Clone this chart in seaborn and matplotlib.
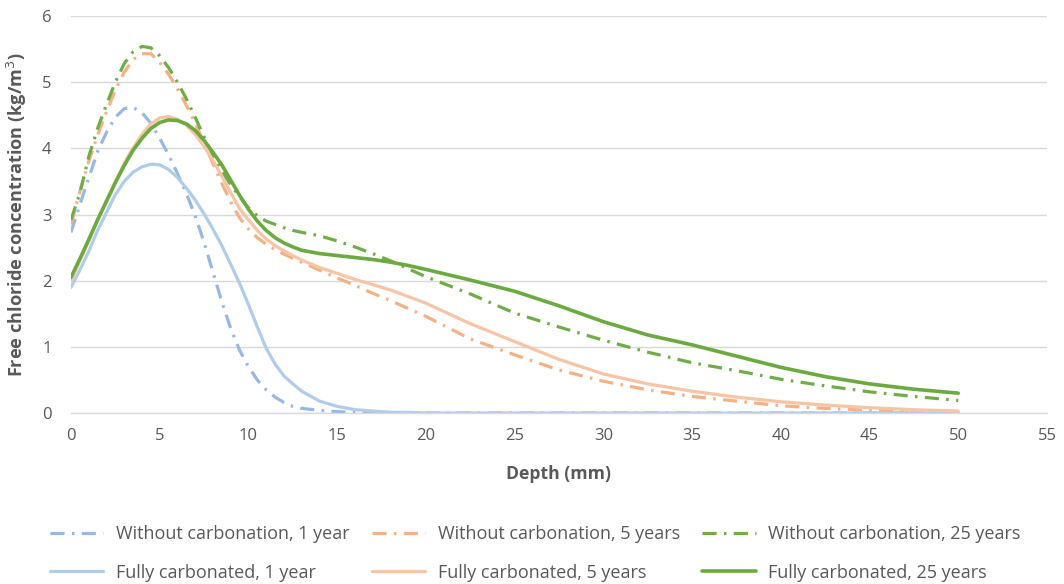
import matplotlib
matplotlib.use("Agg")
import matplotlib.pyplot as plt
import pandas as pd
import seaborn as sns

# ── Dados ─────────────────────────────────────────────────────────────────────
depth = [0, 0.5, 1, 1.5, 2, 2.5, 3, 3.5, 4, 4.5, 5, 5.5, 6, 6.5, 7, 7.5, 8, 8.5,
         9, 9.5, 10, 10.5, 11, 11.5, 12, 12.5, 13,
         14, 15, 16, 17, 18, 19, 20,
         22.5, 25, 27.5, 30, 32.5, 35, 37.5, 40, 42.5, 45, 47.5, 50]

without_1y = [2.73, 3.15, 3.55, 3.95, 4.24, 4.47, 4.60, 4.62, 4.54, 4.38, 4.15, 3.90,
              3.62, 3.32, 2.98, 2.58, 2.13, 1.68, 1.28, 0.95, 0.70, 0.50, 0.35, 0.24,
              0.16, 0.10, 0.07,
              0.04, 0.02, 0.01, 0.00, 0.00, 0.00, 0.00,
              0.00, 0.00, 0.00, 0.00, 0.00, 0.00, 0.00, 0.00, 0.00, 0.00, 0.00, 0.00]
full_1y = [1.90, 2.16, 2.44, 2.76, 3.03, 3.30, 3.50, 3.64, 3.72, 3.76, 3.75, 3.68,
           3.56, 3.40, 3.22, 3.01, 2.78, 2.53, 2.25, 1.96, 1.64, 1.30, 0.98, 0.74,
           0.56, 0.44, 0.33,
           0.18, 0.10, 0.05, 0.03, 0.01, 0.01, 0.00,
           0.00, 0.00, 0.00, 0.00, 0.00, 0.00, 0.00, 0.00, 0.00, 0.00, 0.00, 0.00]
without_5y = [2.85, 3.35, 3.80, 4.20, 4.55, 4.88, 5.15, 5.34, 5.43, 5.43, 5.30, 5.12,
              4.90, 4.65, 4.38, 4.08, 3.77, 3.47, 3.19, 2.95, 2.78, 2.65, 2.55, 2.47,
              2.40, 2.34, 2.28,
              2.16, 2.04, 1.93, 1.81, 1.70, 1.58, 1.46,
              1.12, 0.88, 0.65, 0.48, 0.35, 0.25, 0.18, 0.11, 0.07, 0.04, 0.02, 0.01]
full_5y = [2.00, 2.30, 2.60, 2.91, 3.21, 3.50, 3.77, 4.01, 4.21, 4.37, 4.46, 4.48,
           4.44, 4.35, 4.21, 4.03, 3.82, 3.58, 3.33, 3.09, 2.92, 2.76, 2.63, 2.53,
           2.45, 2.38, 2.31,
           2.20, 2.11, 2.02, 1.94, 1.86, 1.76, 1.66,
           1.35, 1.08, 0.81, 0.59, 0.44, 0.33, 0.24, 0.17, 0.12, 0.08, 0.05, 0.03]
without_25y = [2.92, 3.32, 3.87, 4.30, 4.66, 5.00, 5.28, 5.46, 5.54, 5.52, 5.40, 5.22,
               5.00, 4.75, 4.47, 4.17, 3.90, 3.66, 3.45, 3.27, 3.10, 2.98, 2.90, 2.85,
               2.80, 2.76, 2.73,
               2.68, 2.60, 2.51, 2.41, 2.30, 2.18, 2.06,
               1.80, 1.51, 1.30, 1.10, 0.92, 0.76, 0.64, 0.51, 0.41, 0.32, 0.25, 0.19]
full_25y = [2.05, 2.33, 2.62, 2.92, 3.20, 3.48, 3.74, 3.97, 4.15, 4.30, 4.39, 4.43,
            4.42, 4.37, 4.27, 4.12, 3.94, 3.75, 3.52, 3.29, 3.08, 2.90, 2.76, 2.65,
            2.57, 2.51, 2.46,
            2.41, 2.38, 2.35, 2.32, 2.28, 2.23, 2.17,
            2.01, 1.84, 1.62, 1.38, 1.18, 1.03, 0.86, 0.69, 0.55, 0.44, 0.36, 0.30]

labels = [
    "Without carbonation, 1 year", "Fully carbonated, 1 year",
    "Without carbonation, 5 years", "Fully carbonated, 5 years",
    "Without carbonation, 25 years", "Fully carbonated, 25 years",
]
series = [without_1y, full_1y, without_5y, full_5y, without_25y, full_25y]

# ── Estilo ────────────────────────────────────────────────────────────────────
sns.set_theme(style="white")
plt.rcParams["font.family"] = ["Open Sans", "DejaVu Sans"]

cor = {
    labels[0]: "#95B9E3", labels[1]: "#AFCDEA",
    labels[2]: "#F4B183", labels[3]: "#F7C4A4",
    labels[4]: "#70AD47", labels[5]: "#6AAA3E",
}
estilo = {lab: ((0, (4.4, 2.3, 0.8, 2.3)) if lab.startswith("Without") else "-")
          for lab in labels}
largura = {lab: 2.3 for lab in labels}
largura[labels[5]] = 2.6

df = pd.concat(
    [pd.DataFrame({"depth": depth, "conc": vals, "serie": lab})
     for lab, vals in zip(labels, series)],
    ignore_index=True,
)

fig = plt.figure(figsize=(10.64, 5.84), dpi=100)
ax = fig.add_axes([0.0667, 0.2928, 0.9173, 0.6798])

# ordem de desenho como no Excel: tracejadas primeiro, sólidas por cima
ordem = [labels[0], labels[2], labels[4], labels[1], labels[3], labels[5]]
for lab in ordem:
    sub = df[df["serie"] == lab]
    sns.lineplot(data=sub, x="depth", y="conc", ax=ax, color=cor[lab],
                 linewidth=largura[lab], linestyle=estilo[lab], label=lab,
                 legend=False, solid_capstyle="round", dash_capstyle="butt")

ax.set_xlim(0, 55)
ax.set_ylim(0, 6)
ax.set_xticks(range(0, 56, 5))
ax.set_yticks(range(0, 7))
ax.yaxis.grid(True, color="#D9D9D9", linewidth=1)
ax.xaxis.grid(False)
for s in ["top", "right", "left"]:
    ax.spines[s].set_visible(False)
ax.spines["bottom"].set_color("#D9D9D9")
ax.spines["bottom"].set_linewidth(1)
ax.tick_params(axis="both", length=0, labelsize=12, colors="#595959")
ax.tick_params(axis="x", pad=11)
ax.tick_params(axis="y", pad=14)

ax.set_xlabel("Depth (mm)", fontsize=12.6, fontweight="bold", color="#595959", labelpad=15)
ax.set_ylabel("Free chloride concentration (kg/m$^3$)", fontsize=13.1,
              fontweight="bold", color="#595959", labelpad=9)

handles, labs = ax.get_legend_handles_labels()
mapa = dict(zip(labs, handles))
leg = fig.legend([mapa[l] for l in labels], labels, ncol=3,
                 loc="lower center", bbox_to_anchor=(0.503, -0.024),
                 frameon=False, fontsize=13, handlelength=2.95,
                 handletextpad=0.7, columnspacing=1.25, labelspacing=1.15,
                 labelcolor="#595959")

fig.savefig("out.png", dpi=100)
